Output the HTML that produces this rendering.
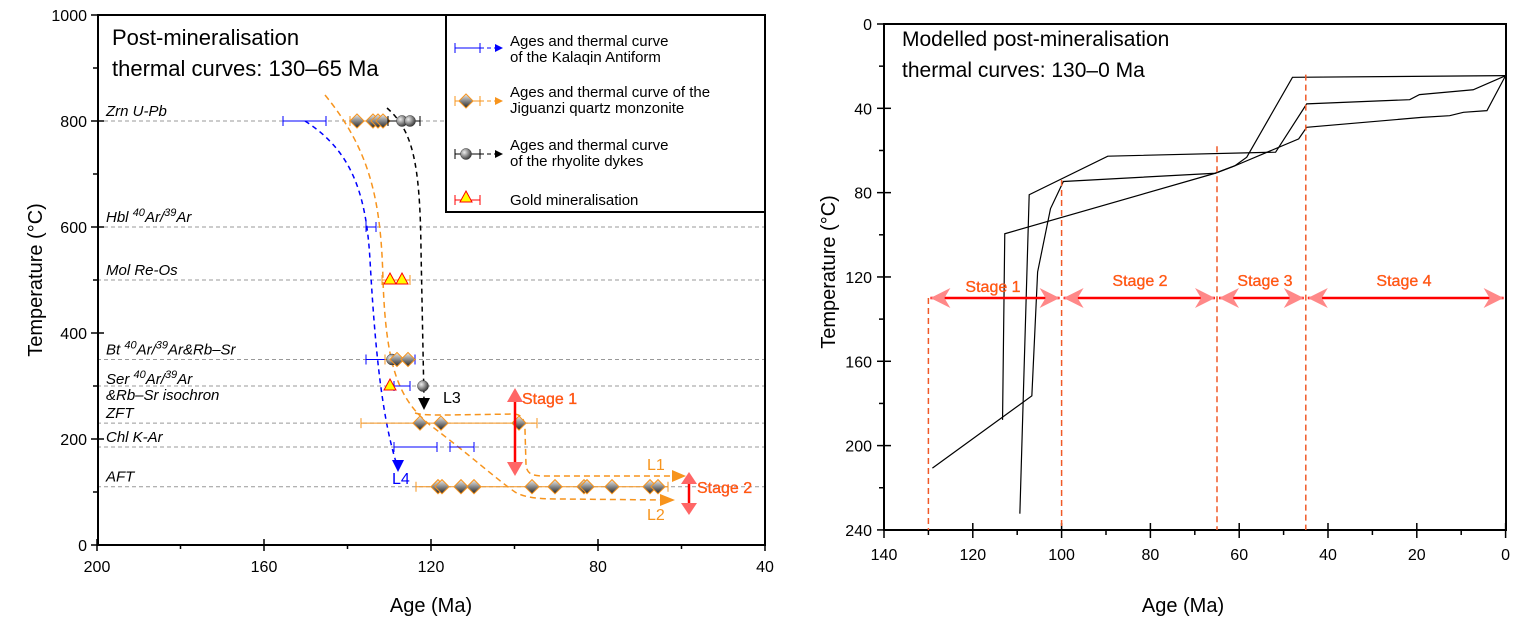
<!DOCTYPE html>
<html><head><meta charset="utf-8"><style>
body{margin:0;background:#fff}
svg{display:block;font-family:"Liberation Sans",Arial,sans-serif}
</style></head><body>
<svg id="s" width="1519" height="634" viewBox="0 0 1519 634" xmlns="http://www.w3.org/2000/svg">
<defs>
<linearGradient id="dg" x1="0" y1="0" x2="1" y2="1"><stop offset="0" stop-color="#eee"/><stop offset="1" stop-color="#222"/></linearGradient>
<radialGradient id="cg" cx="0.35" cy="0.35" r="0.7"><stop offset="0" stop-color="#eee"/><stop offset="1" stop-color="#333"/></radialGradient>
</defs>
</svg>
<script>
let out="";
function t(x,y,s,size,extra){out+=`<text x="${x}" y="${y}" font-size="${size||16}" ${extra||""}>${s}</text>`;}
function ln(x1,y1,x2,y2,st){out+=`<line x1="${x1}" y1="${y1}" x2="${x2}" y2="${y2}" ${st}/>`;}
function pl(pts,st){out+=`<polyline fill="none" points="${pts.map(p=>p.join(',')).join(' ')}" ${st}/>`;}
function pa(d,st){out+=`<path fill="none" d="${d}" ${st}/>`;}
// LEFT
const LX=a=>97+(200-a)*4.175, LY=T=>545-T*0.53;
[[800,"Zrn U-Pb"],[600,"Hbl <tspan font-size='11' dy='-6'>40</tspan><tspan dy='6'>Ar/</tspan><tspan font-size='11' dy='-6'>39</tspan><tspan dy='6'>Ar</tspan>"],[500,"Mol Re-Os"],[350,"Bt <tspan font-size='11' dy='-6'>40</tspan><tspan dy='6'>Ar/</tspan><tspan font-size='11' dy='-6'>39</tspan><tspan dy='6'>Ar&amp;Rb–Sr</tspan>"],[300,""],[230,"ZFT"],[185,"Chl K-Ar"],[110,"AFT"]].forEach(([T,s])=>{
 ln(97,LY(T),765,LY(T),'stroke="#999" stroke-dasharray="4,3"');
 if(s)t(106,LY(T)-5,s,15,'font-style="italic"');
});
t(106,384,"Ser <tspan font-size='11' dy='-6'>40</tspan><tspan dy='6'>Ar/</tspan><tspan font-size='11' dy='-6'>39</tspan><tspan dy='6'>Ar</tspan>",15,'font-style="italic"');
t(106,400,"&amp;Rb–Sr isochron",15,'font-style="italic"');
out+=`<rect x="98" y="15" width="667" height="530" fill="none" stroke="#000" stroke-width="2"/>`;
for(let T=0;T<=1000;T+=100){ln(T%200?93:91,LY(T),T%200?98:104,LY(T),'stroke="#000" stroke-width="1.5"');if(T%200==0)t(87,LY(T)+6,T,16,'text-anchor="end"');}
for(let a=200;a>=40;a-=20){ln(LX(a),a%40?545:539,LX(a),a%40?549:551,'stroke="#000" stroke-width="1.5"');if(a%40==0)t(LX(a),572,a,16,'text-anchor="middle"');}
t(431,612,"Age (Ma)",20,'text-anchor="middle"');
t(42,280,"Temperature (°C)",20,'text-anchor="middle" transform="rotate(-90 42 280)"');
t(112,45,"Post-mineralisation",22);t(112,76,"thermal curves: 130–65 Ma",22);
// curves
pa("M305,121 C350,150 366,190 370,260 S380,410 396,462",'stroke="#00f" stroke-width="1.5" stroke-dasharray="5,4"');
out+=`<polygon points="392,460 404,460 398,472" fill="#00f"/>`;t(392,484,"L4",16,'fill="#00f"');
pa("M325,95 C370,150 381,200 383,280 C386,370 400,400 430,425 C470,455 495,478 515,492 C525,498 540,499 560,499 L670,500",'stroke="#f7941d" stroke-width="1.5" stroke-dasharray="6,4"');
pa("M415,413 C425,416 440,415 515,414 C522,415 525,420 525,430 L526,465 C527,474 532,476 545,476 L672,476",'stroke="#f7941d" stroke-width="1.5" stroke-dasharray="6,4"');
out+=`<polygon points="672,470 686,476 672,482" fill="#f7941d"/><polygon points="660,494 675,500 660,506" fill="#f7941d"/>`;
t(647,470,"L1",16,'fill="#f7941d"');t(647,520,"L2",16,'fill="#f7941d"');
pa("M387,108 C412,130 420,160 421,250 L424,400",'stroke="#000" stroke-width="1.5" stroke-dasharray="5,4"');
out+=`<polygon points="418,398 430,398 424,410" fill="#000"/>`;t(443,403,"L3",16);
function eb(x1,x2,y,c){ln(x1,y,x2,y,`stroke="${c}"`);ln(x1,y-5,x1,y+5,`stroke="${c}"`);ln(x2,y-5,x2,y+5,`stroke="${c}"`);}
function dia(x,y){out+=`<rect x="${x-5}" y="${y-5}" width="10" height="10" fill="url(#dg)" stroke="#f7941d" transform="rotate(45 ${x} ${y})"/>`;}
function cir(x,y){out+=`<circle cx="${x}" cy="${y}" r="5.5" fill="url(#cg)" stroke="#333" stroke-width=".5"/>`;}
function tri(x,y){out+=`<polygon points="${x},${y-7} ${x+6},${y+4} ${x-6},${y+4}" fill="#ff0" stroke="#f00"/>`;}
let y=LY(800);eb(283,326,y,"#00f");eb(350,385,y,"#f7941d");dia(357,y);dia(373,y);dia(378,y);dia(383,y);eb(388,420,y,"#000");cir(402,y);cir(410,y);
eb(366,376,LY(600),"#00f");
y=LY(500);eb(382,410,y,"#f7941d");tri(390,y);tri(402,y);
y=LY(350);eb(366,415,y,"#00f");eb(385,410,y,"#f7941d");cir(392,y);dia(397,y);dia(408,y);
y=LY(300);eb(394,410,y,"#00f");tri(390,y);cir(423,y);
y=LY(230);eb(361,537,y,"#f7941d");dia(420,y);dia(441,y);dia(519,y);ln(537,y-5,537,y+5,'stroke="#f7941d"');
y=LY(185);eb(394,437,y,"#00f");eb(450,474,y,"#00f");
y=LY(110);eb(416,668,y,"#f7941d");[438,442,461,474,532,555,584,587,612,650,658].forEach(x=>dia(x,y));
ln(515,392,515,472,'stroke="#f00" stroke-width="2.5"');
out+=`<polygon points="507,402 515,388 523,402" fill="#f66"/><polygon points="507,462 515,476 523,462" fill="#f66"/>`;
t(522,404,"Stage 1",16,'fill="#f60" stroke="#f33" stroke-width=".3"');
ln(689,477,689,510,'stroke="#f00" stroke-width="2.5"');
out+=`<polygon points="681,484 689,472 697,484" fill="#f66"/><polygon points="681,503 689,515 697,503" fill="#f66"/>`;
t(697,493,"Stage 2",16,'fill="#f60" stroke="#f33" stroke-width=".3"');
// legend
out+=`<rect x="446" y="15" width="319" height="197" fill="#fff" stroke="#000" stroke-width="2"/>`;
eb(455,480,48,"#00f");ln(480,48,495,48,'stroke="#00f" stroke-dasharray="4,3"');out+=`<polygon points="495,44 503,48 495,52" fill="#00f"/>`;
t(510,46,"Ages and thermal curve",15);t(510,62,"of the Kalaqin Antiform",15);
eb(455,480,101,"#f7941d");dia(466,101);ln(480,101,495,101,'stroke="#f7941d" stroke-dasharray="4,3"');out+=`<polygon points="495,97 503,101 495,105" fill="#f7941d"/>`;
t(510,97,"Ages and thermal curve of the",15);t(510,113,"Jiguanzi quartz monzonite",15);
eb(455,480,154,"#000");cir(466,154);ln(480,154,495,154,'stroke="#000" stroke-dasharray="4,3"');out+=`<polygon points="495,150 503,154 495,158" fill="#000"/>`;
t(510,150,"Ages and thermal curve",15);t(510,166,"of the rhyolite dykes",15);
eb(455,480,200,"#f00");tri(466,198);t(510,205,"Gold mineralisation",15);
// RIGHT
const RX=a=>884+(140-a)*4.44, RY=T=>24+T*2.108;
out+=`<rect x="884" y="24" width="622" height="506" fill="none" stroke="#000" stroke-width="2"/>`;
for(let T=0;T<=240;T+=20){ln(T%40?879:877,RY(T),T%40?884:891,RY(T),'stroke="#000" stroke-width="1.5"');if(T%40==0)t(872,RY(T)+6,T,16,'text-anchor="end"');}
for(let a=140;a>=0;a-=10){ln(RX(a),a%20?530:523,RX(a),a%20?535:538,'stroke="#000" stroke-width="1.5"');if(a%20==0)t(RX(a),560,a,16,'text-anchor="middle"');}
t(1183,612,"Age (Ma)",20,'text-anchor="middle"');
t(835,272,"Temperature (°C)",20,'text-anchor="middle" transform="rotate(-90 835 272)"');
t(902,46,"Modelled post-mineralisation",21);t(902,77,"thermal curves: 130–0 Ma",21);
const c1=[[129.1,210.7],[106.7,176.4],[105.4,117.6],[102.5,87.6],[99.6,74.7],[65.4,70.8],[61,67.3],[58.3,63.2],[48,25.3],[0,24.5]];
const c2=[[113.3,187.8],[112.8,99.5],[65.4,70.8],[61,67.3],[46.6,54.5],[44.8,49],[18.9,44.3],[12.6,43.5],[9.5,41.9],[4.2,41.1],[0,24.5]];
const c3=[[109.4,232.3],[107.3,81],[89.6,62.7],[51.8,60.8],[44.8,37.9],[21.6,35.9],[19.4,33.5],[7.3,31.2],[0,24.5]];
[c1,c2,c3].forEach(c=>pl(c.map(([a,T])=>[RX(a),RY(T)]),'stroke="#000" stroke-width="1.2"'));
[[130,130],[100,74],[65,58],[45,24]].forEach(([a,T])=>ln(RX(a),RY(T),RX(a),530,'stroke="#f05a28" stroke-width="1.5" stroke-dasharray="6,4"'));
const ay=RY(130);
[[130,100],[100,65],[65,45],[45,0]].forEach(([a,b])=>{const x1=RX(a)+2,x2=RX(b)-2;ln(x1,ay,x2,ay,'stroke="#f00" stroke-width="2.5"');
out+=`<polygon points="${x1},${ay} ${x1+20},${ay-10} ${x1+14},${ay} ${x1+20},${ay+10}" fill="#f88"/><polygon points="${x2},${ay} ${x2-20},${ay-10} ${x2-14},${ay} ${x2-20},${ay+10}" fill="#f88"/>`;});
[["Stage 1",993,292],["Stage 2",1140,286],["Stage 3",1265,286],["Stage 4",1404,286]].forEach(([s,x,y])=>t(x,y,s,16,'text-anchor="middle" fill="#f60" stroke="#f33" stroke-width=".3"'));
document.getElementById("s").insertAdjacentHTML("beforeend",out);
</script>
</body></html>
